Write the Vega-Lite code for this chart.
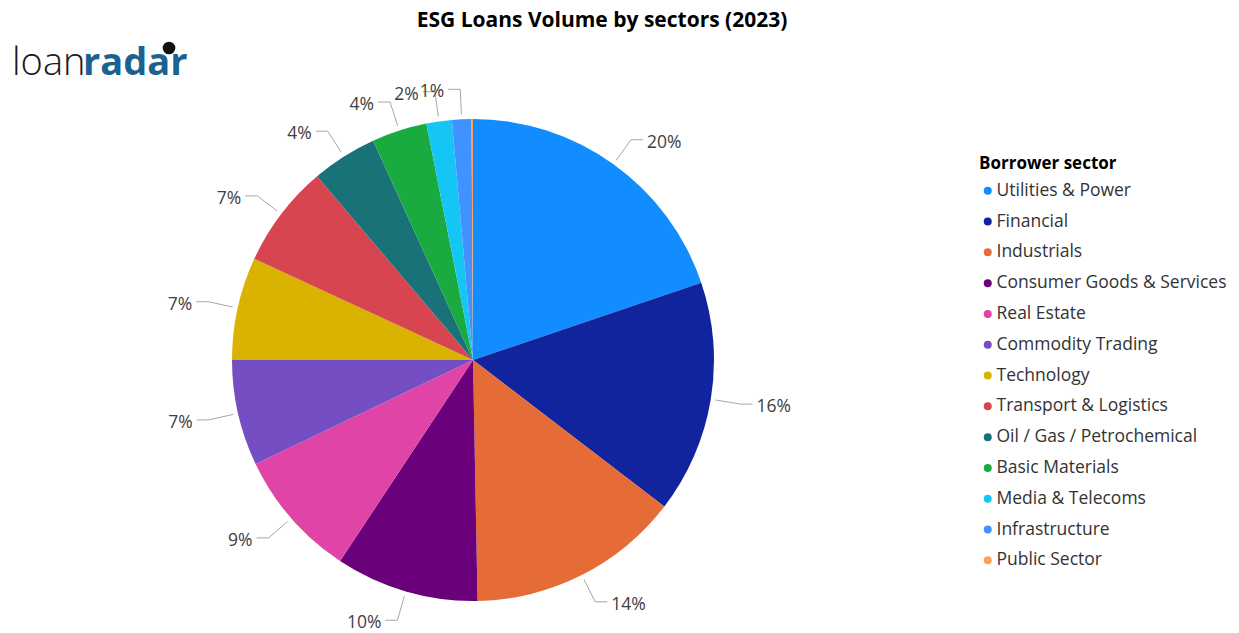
{
  "$schema": "https://vega.github.io/schema/vega-lite/v6.json",
  "width": 946,
  "height": 640,
  "autosize": {"type": "none"},
  "padding": {"left": 0, "top": 40, "right": 293, "bottom": 0},
  "background": "white",
  "title": {
    "text": "ESG Loans Volume by sectors (2023)",
    "font": "Open Sans",
    "fontSize": 21,
    "fontWeight": "bold",
    "color": "#000000",
    "anchor": "middle",
    "dx": 129,
    "offset": 9
  },
  "config": {"view": {"stroke": null}},
  "layer": [
    {
      "data": {
        "values": [
          {"sector": "Utilities & Power", "value": 19.8},
          {"sector": "Financial", "value": 15.6},
          {"sector": "Industrials", "value": 14.3},
          {"sector": "Consumer Goods & Services", "value": 9.6},
          {"sector": "Real Estate", "value": 8.6},
          {"sector": "Commodity Trading", "value": 7.1},
          {"sector": "Technology", "value": 6.9},
          {"sector": "Transport & Logistics", "value": 6.9},
          {"sector": "Oil / Gas / Petrochemical", "value": 4.4},
          {"sector": "Basic Materials", "value": 3.7},
          {"sector": "Media & Telecoms", "value": 1.7},
          {"sector": "Infrastructure", "value": 1.3},
          {"sector": "Public Sector", "value": 0.1}
        ]
      },
      "transform": [
        {"joinaggregate": [{"op": "sum", "field": "value", "as": "total"}]},
        {"window": [{"op": "sum", "field": "value", "as": "cum"}], "frame": [null, 0]},
        {"calculate": "(datum.cum - datum.value) / datum.total", "as": "f0"},
        {"calculate": "datum.cum / datum.total", "as": "f1"},
        {"calculate": "datum.value / datum.total", "as": "pct"},
        {"calculate": "PI * (datum.f0 + datum.f1)", "as": "a"},
        {"calculate": "246 * sin(datum.a)", "as": "x1"},
        {"calculate": "246 * cos(datum.a)", "as": "y1"},
        {"calculate": "271 * sin(datum.a)", "as": "x2"},
        {"calculate": "271 * cos(datum.a)", "as": "y2"},
        {"calculate": "datum.x2 + (datum.x2 >= 0 ? 12 : -12)", "as": "x3"},
        {"calculate": "datum.x2 + (datum.x2 >= 0 ? 16 : -16)", "as": "tx"}
      ],
      "layer": [
        {
          "mark": {"type": "arc", "outerRadius": 241},
          "encoding": {
            "theta": {"field": "f0", "type": "quantitative", "scale": {"domain": [0, 1]}},
            "theta2": {"field": "f1"},
            "color": {
              "field": "sector",
              "type": "nominal",
              "scale": {
                "domain": ["Utilities & Power", "Financial", "Industrials", "Consumer Goods & Services", "Real Estate", "Commodity Trading", "Technology", "Transport & Logistics", "Oil / Gas / Petrochemical", "Basic Materials", "Media & Telecoms", "Infrastructure", "Public Sector"],
                "range": ["#118DFF", "#12239E", "#E66C37", "#6B007B", "#E044A7", "#744EC2", "#D9B300", "#D64550", "#197278", "#1AAB40", "#15C6F4", "#4092FF", "#FFA058"]
              },
              "legend": {
                "orient": "none",
                "legendX": 979,
                "legendY": 116,
                "title": "Borrower sector",
                "titleFont": "Open Sans",
                "titleFontSize": 17,
                "titleFontWeight": "bold",
                "titleColor": "#000000",
                "titlePadding": 9,
                "labelFont": "Open Sans",
                "labelFontSize": 17.5,
                "labelColor": "#333333",
                "labelLimit": 300,
                "labelOffset": 0,
                "symbolType": "circle",
                "symbolSize": 64,
                "symbolStrokeWidth": 0,
                "rowPadding": 11.8
              }
            }
          }
        },
        {
          "transform": [{"filter": "datum.pct >= 0.005"}],
          "mark": {"type": "rule", "color": "#A6A6A6", "strokeWidth": 1},
          "encoding": {
            "x": {"field": "x1", "type": "quantitative", "scale": {"domain": [-473, 473], "nice": false, "zero": false}, "axis": null},
            "y": {"field": "y1", "type": "quantitative", "scale": {"domain": [-320, 320], "nice": false, "zero": false}, "axis": null},
            "x2": {"field": "x2"},
            "y2": {"field": "y2"}
          }
        },
        {
          "transform": [{"filter": "datum.pct >= 0.005"}],
          "mark": {"type": "rule", "color": "#A6A6A6", "strokeWidth": 1},
          "encoding": {
            "x": {"field": "x2", "type": "quantitative"},
            "y": {"field": "y2", "type": "quantitative"},
            "x2": {"field": "x3"},
            "y2": {"field": "y2"}
          }
        },
        {
          "transform": [{"filter": "datum.pct >= 0.005 && datum.x2 >= 0"}],
          "mark": {"type": "text", "align": "left", "baseline": "middle", "dy": 3, "font": "Open Sans", "fontSize": 17.5, "color": "#404040"},
          "encoding": {
            "x": {"field": "tx", "type": "quantitative"},
            "y": {"field": "y2", "type": "quantitative"},
            "text": {"field": "pct", "type": "quantitative", "format": ".0%"}
          }
        },
        {
          "transform": [{"filter": "datum.pct >= 0.005 && datum.x2 < 0"}],
          "mark": {"type": "text", "align": "right", "baseline": "middle", "dy": 3, "font": "Open Sans", "fontSize": 17.5, "color": "#404040"},
          "encoding": {
            "x": {"field": "tx", "type": "quantitative"},
            "y": {"field": "y2", "type": "quantitative"},
            "text": {"field": "pct", "type": "quantitative", "format": ".0%"}
          }
        }
      ]
    },
    {
      "data": {"values": [{"t": "loan"}]},
      "mark": {"type": "text", "align": "left", "baseline": "alphabetic", "font": "Open Sans", "fontSize": 38, "fontWeight": 300, "color": "#1a1a1a"},
      "encoding": {
        "x": {"datum": -461, "type": "quantitative"},
        "y": {"datum": 285, "type": "quantitative"},
        "text": {"field": "t"}
      }
    },
    {
      "data": {"values": [{"t": "radar"}]},
      "mark": {"type": "text", "align": "left", "baseline": "alphabetic", "font": "Open Sans", "fontSize": 38, "fontWeight": "bold", "color": "#1B6290"},
      "encoding": {
        "x": {"datum": -390, "type": "quantitative"},
        "y": {"datum": 285, "type": "quantitative"},
        "text": {"field": "t"}
      }
    },
    {
      "data": {"values": [{"t": "logo"}]},
      "mark": {"type": "point", "filled": true, "color": "#111111", "size": 160, "opacity": 1},
      "encoding": {
        "x": {"datum": -304, "type": "quantitative"},
        "y": {"datum": 312, "type": "quantitative"}
      }
    }
  ]
}
